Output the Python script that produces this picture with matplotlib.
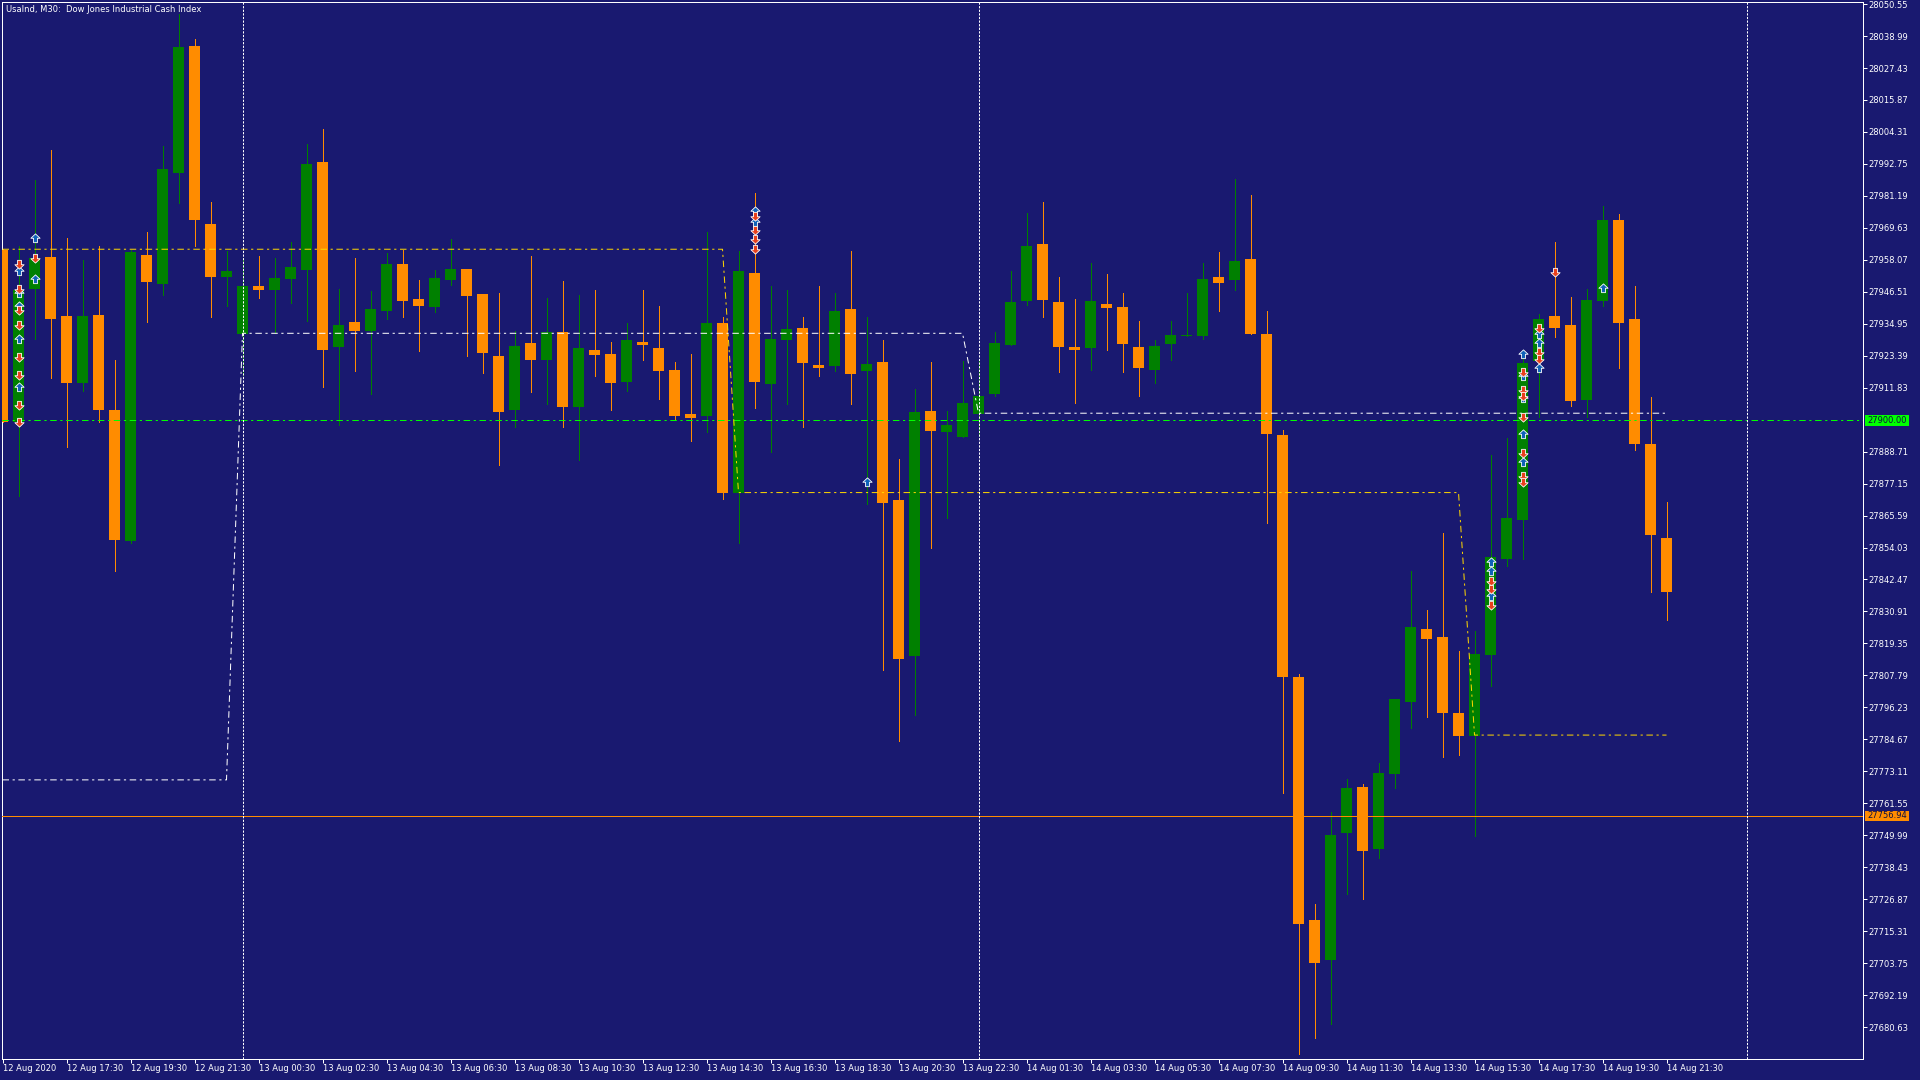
import numpy as np
import matplotlib
matplotlib.use('Agg')
import matplotlib.pyplot as plt
from matplotlib.path import Path
from matplotlib.patches import Rectangle
from matplotlib import font_manager
import matplotlib.transforms as mtransforms

# ---------------- data ----------------
time_labels = ["12 Aug 2020", "12 Aug 17:30", "12 Aug 19:30", "12 Aug 21:30",
               "13 Aug 00:30", "13 Aug 02:30", "13 Aug 04:30", "13 Aug 06:30",
               "13 Aug 08:30", "13 Aug 10:30", "13 Aug 12:30", "13 Aug 14:30",
               "13 Aug 16:30", "13 Aug 18:30", "13 Aug 20:30", "13 Aug 22:30",
               "14 Aug 01:30", "14 Aug 03:30", "14 Aug 05:30", "14 Aug 07:30",
               "14 Aug 09:30", "14 Aug 11:30", "14 Aug 13:30", "14 Aug 15:30",
               "14 Aug 17:30", "14 Aug 19:30", "14 Aug 21:30"]
label_bars = list(range(0, 105, 4))

opens = [27961.8, 27899.5, 27947.5, 27959.1, 27937.8, 27913.6, 27938.1, 27903.7, 27856.5, 27959.9,
         27949.5, 27989.6, 28035.3, 27971.0, 27952.0, 27931.3, 27948.6, 27947.3, 27951.3, 27954.5,
         27993.4, 27926.4, 27935.6, 27932.4, 27939.4, 27956.6, 27944.0, 27941.1, 27950.6, 27954.8,
         27945.7, 27923.2, 27903.9, 27928.0, 27921.9, 27931.9, 27904.8, 27925.5, 27924.0, 27914.0,
         27928.4, 27926.1, 27918.2, 27902.3, 27901.7, 27935.2, 27873.8, 27953.3, 27913.0, 27928.9,
         27933.4, 27920.1, 27919.8, 27940.3, 27918.0, 27921.1, 27871.2, 27814.8, 27903.4, 27895.8,
         27894.1, 27902.3, 27909.6, 27927.3, 27943.2, 27963.7, 27942.8, 27926.5, 27926.3, 27942.0,
         27941.0, 27926.5, 27918.4, 27927.5, 27930.6, 27930.6, 27951.9, 27950.9, 27958.3, 27931.3,
         27894.7, 27807.1, 27719.3, 27704.9, 27750.8, 27767.4, 27745.1, 27772.3, 27798.3, 27824.6,
         27821.6, 27794.1, 27786.0, 27815.3, 27849.9, 27864.1, 27921.4, 27937.7, 27934.5, 27907.5,
         27943.3, 27972.5, 27936.6, 27891.4, 27857.4]
highs = [27962.0, 27963.0, 27987.0, 27997.7, 27965.9, 27958.0, 27963.0, 27921.9, 27961.7, 27968.2,
         27999.2, 28047.0, 28038.0, 27979.0, 27961.2, 27958.7, 27959.4, 27958.7, 27964.5, 27999.8,
         28005.4, 27947.5, 27958.7, 27946.9, 27960.5, 27961.7, 27950.8, 27954.4, 27965.6, 27954.8,
         27945.7, 27946.1, 27932.3, 27959.4, 27944.3, 27950.5, 27945.3, 27947.2, 27928.4, 27935.2,
         27947.2, 27941.4, 27921.1, 27924.0, 27968.1, 27937.4, 27961.2, 27982.3, 27948.6, 27947.2,
         27937.4, 27948.6, 27946.1, 27961.2, 27937.4, 27929.0, 27886.0, 27911.4, 27921.1, 27903.4,
         27921.5, 27921.8, 27931.9, 27954.0, 27975.0, 27979.0, 27951.9, 27943.9, 27956.9, 27952.9,
         27946.1, 27936.0, 27929.0, 27936.0, 27946.1, 27956.9, 27960.8, 27987.3, 27981.5, 27939.5,
         27896.6, 27808.3, 27725.1, 27758.4, 27770.2, 27768.5, 27776.1, 27799.2, 27845.5, 27831.5,
         27859.2, 27816.6, 27824.0, 27887.5, 27893.7, 27922.5, 27938.5, 27964.5, 27944.7, 27947.5,
         27977.6, 27974.6, 27948.5, 27908.4, 27870.4]
lows = [27899.3, 27872.6, 27929.4, 27915.3, 27890.3, 27910.5, 27899.5, 27845.4, 27855.5, 27935.7,
        27945.2, 27978.8, 27962.9, 27937.4, 27941.5, 27916.6, 27944.1, 27931.5, 27942.3, 27936.1,
        27912.2, 27898.2, 27917.9, 27909.4, 27936.5, 27937.5, 27925.2, 27939.3, 27949.1, 27923.4,
        27917.3, 27883.7, 27897.7, 27910.1, 27906.0, 27897.7, 27885.8, 27915.9, 27903.9, 27910.8,
        27921.7, 27907.9, 27900.6, 27892.7, 27895.9, 27871.7, 27855.8, 27904.4, 27888.7, 27905.8,
        27897.7, 27915.9, 27918.0, 27905.8, 27869.9, 27809.8, 27784.1, 27793.6, 27853.8, 27864.7,
        27894.1, 27894.2, 27908.7, 27927.3, 27941.9, 27937.4, 27917.5, 27906.3, 27918.4, 27925.6,
        27917.5, 27908.7, 27913.5, 27921.9, 27930.6, 27929.6, 27939.7, 27947.3, 27931.3, 27863.0,
        27765.1, 27671.0, 27676.8, 27681.7, 27728.9, 27727.0, 27741.9, 27766.9, 27788.8, 27792.8,
        27778.1, 27779.1, 27749.6, 27804.1, 27847.4, 27849.9, 27901.3, 27930.3, 27905.3, 27901.3,
        27941.2, 27919.1, 27889.3, 27838.0, 27827.7]
closes = [27899.5, 27947.3, 27958.7, 27936.6, 27913.6, 27937.8, 27903.9, 27856.8, 27960.9, 27949.9,
          27990.9, 28035.1, 27972.6, 27952.0, 27954.1, 27948.6, 27947.3, 27951.5, 27955.4, 27992.7,
          27925.6, 27934.4, 27932.4, 27940.3, 27956.6, 27943.3, 27941.5, 27951.5, 27954.8, 27945.1,
          27924.2, 27903.1, 27926.9, 27921.9, 27931.9, 27904.8, 27926.1, 27923.8, 27913.6, 27929.0,
          27927.1, 27918.0, 27901.7, 27901.0, 27935.2, 27873.8, 27954.0, 27914.0, 27929.4, 27933.1,
          27920.9, 27918.8, 27939.5, 27916.9, 27920.3, 27870.3, 27813.7, 27903.0, 27896.2, 27898.4,
          27906.3, 27908.8, 27928.0, 27942.8, 27963.1, 27943.6, 27926.5, 27925.6, 27943.2, 27940.7,
          27927.7, 27918.8, 27926.9, 27930.9, 27930.9, 27951.1, 27949.7, 27957.7, 27931.3, 27895.2,
          27807.1, 27717.8, 27703.8, 27750.0, 27767.0, 27744.1, 27772.5, 27799.2, 27825.3, 27821.0,
          27794.3, 27786.0, 27815.6, 27850.6, 27864.7, 27920.7, 27936.6, 27933.4, 27907.1, 27943.6,
          27972.5, 27935.3, 27891.3, 27858.4, 27838.0]

# indicator step lines: (first bar, last bar, level)
yellow_levels = [(0, 45, 27961.9), (46, 91, 27873.9), (92, 104, 27786.2)]
white_levels = [(0, 14, 27770.0), (15, 60, 27931.5), (61, 104, 27902.6)]
separator_bars = [15, 61, 109]
hline_green = 27900.00
hline_orange = 27756.94

y_ticks = [28050.55, 28038.99, 28027.43, 28015.87, 28004.31, 27992.75, 27981.19, 27969.63,
           27958.07, 27946.51, 27934.95, 27923.39, 27911.83, 27888.71, 27877.15, 27865.59,
           27854.03, 27842.47, 27830.91, 27819.35, 27807.79, 27796.23, 27784.67, 27773.11,
           27761.55, 27749.99, 27738.43, 27726.87, 27715.31, 27703.75, 27692.19, 27680.63]

marker_bars = [1]*13 + [2]*3 + [47]*6 + [54] + [93]*6 + [95]*12 + [96]*6 + [97] + [100]
marker_prices = [27956.5, 27954.1, 27947.5, 27946.0, 27941.3, 27939.9, 27934.4, 27929.5, 27922.9,
                 27916.6, 27912.0, 27905.7, 27899.5,
                 27965.9, 27958.6, 27951.2,
                 27975.7, 27973.9, 27971.8, 27968.9, 27965.7, 27961.9,
                 27877.8,
                 27848.9, 27845.4, 27842.0, 27839.1, 27836.4, 27833.1,
                 27924.1, 27917.4, 27916.0, 27911.1, 27908.7, 27908.0, 27901.3, 27895.2, 27888.3,
                 27885.0, 27879.9, 27877.9,
                 27933.4, 27931.4, 27928.1, 27924.7, 27922.1, 27919.0,
                 27953.5,
                 27947.9]
marker_dirs = ['d', 'u', 'd', 'u', 'u', 'd', 'd', 'u', 'd', 'd', 'u', 'd', 'd',
               'u', 'd', 'u',
               'u', 'd', 'u', 'd', 'd', 'd',
               'u',
               'u', 'u', 'd', 'd', 'u', 'd',
               'u', 'd', 'u', 'd', 'd', 'u', 'd', 'u', 'd', 'u', 'd', 'd',
               'd', 'u', 'u', 'd', 'd', 'u',
               'd',
               'u']

title_text = "UsaInd, M30:  Dow Jones Industrial Cash Index"

# ---------------- style ----------------
BG = '#191970'
UP = '#008000'
DN = '#ff8c00'
GOLD = '#ffd700'
LIME = '#00ff00'
PX = 0.72  # one pixel in points at 100 dpi

names = {f.name for f in font_manager.fontManager.ttflist}
if 'Liberation Sans Narrow' in names:
    FONT = 'Liberation Sans Narrow'
    FS = 7.6
else:
    FONT = 'DejaVu Sans'
    FS = 6.0
plt.rcParams['font.family'] = [FONT, 'DejaVu Sans']

fig = plt.figure(figsize=(19.2, 10.8), dpi=100, facecolor=BG)
L, R = 2 / 1920, 1863 / 1920
T, B = 1 - 2 / 1080, 1 - 1059 / 1080
ax = fig.add_axes([L, B, R - L, T - B])
ax.set_facecolor(BG)

o = np.array(opens); h = np.array(highs); l = np.array(lows); c = np.array(closes)
x = np.arange(len(o))
cols = [UP if cc >= oo else DN for oo, cc in zip(o, c)]

# wicks and bodies
ax.vlines(x, l, h, colors=cols, linewidth=PX, antialiased=False, zorder=2)
bottoms = np.minimum(o, c)
heights = np.maximum(np.abs(c - o), 0.4)
ax.bar(x, heights, width=0.6875, bottom=bottoms, color=cols, linewidth=0,
       antialiased=False, zorder=3)

# horizontal levels
dashdot = (0, (6.5, 3.6, 2.2, 3.6))
ax.axhline(hline_green, color=LIME, linewidth=PX, linestyle=dashdot, zorder=4)
ax.axhline(hline_orange, color=DN, linewidth=PX, zorder=4)

def build(levels):
    xs, ys = [], []
    for a, b, v in levels:
        for i in range(a, b + 1):
            xs.append(i); ys.append(v)
    return xs, ys

yx, yy = build(yellow_levels)
ax.plot(yx, yy, color=GOLD, linewidth=PX, linestyle=dashdot, zorder=4)
wx, wy = build(white_levels)
ax.plot(wx, wy, color='white', linewidth=PX, linestyle=dashdot, zorder=4)

for sb in separator_bars:
    ax.axvline(sb, color='white', linewidth=PX, linestyle=(0, (2.2, 1.4)), zorder=4)

# arrow markers
up_path = Path([(0, 1), (1, 0.05), (0.42, 0.05), (0.42, -0.9), (-0.42, -0.9),
                (-0.42, 0.05), (-1, 0.05), (0, 1)],
               [Path.MOVETO] + [Path.LINETO] * 6 + [Path.CLOSEPOLY])
dn_path = Path([(px_, -py_) for px_, py_ in up_path.vertices], up_path.codes)
mb = np.array(marker_bars); mp = np.array(marker_prices); md = np.array(marker_dirs)
ax.scatter(mb[md == 'u'], mp[md == 'u'], marker=up_path, s=44, c='#1062b8',
           edgecolors='white', linewidths=0.6, zorder=6)
ax.scatter(mb[md == 'd'], mp[md == 'd'], marker=dn_path, s=44, c='#e8401c',
           edgecolors='white', linewidths=0.6, zorder=6)

# axes
ax.set_xlim(-0.03125, 116.28)
ax.set_ylim(27669.06, 28051.31)
for sp in ax.spines.values():
    sp.set_color('white'); sp.set_linewidth(PX)

ax.yaxis.tick_right()
ax.set_yticks(y_ticks)
ax.set_yticklabels([f"{v:.2f}" for v in y_ticks])
ax.tick_params(axis='y', colors='white', length=4 * PX, width=PX, pad=1.2,
               labelsize=FS, labelcolor='white')
ax.set_xticks(label_bars)
ax.set_xticklabels(time_labels)
ax.tick_params(axis='x', colors='white', length=4 * PX, width=PX, pad=1.0,
               labelsize=FS, labelcolor='white')
for t in ax.get_xticklabels():
    t.set_ha('left')

# price labels on the scale
blend = mtransforms.blended_transform_factory(ax.transAxes, ax.transData)
aw = 1861.0
for price, bg in [(hline_green, LIME), (hline_orange, DN)]:
    hh = 10.6 / 2.7652
    ax.add_patch(Rectangle(((1865 - 2) / aw, price - hh / 2), 44 / aw, hh, transform=blend,
                           facecolor=bg, edgecolor='none', clip_on=False, zorder=10))
    ax.text((1867.5 - 2) / aw, price, f"{price:.2f}", transform=blend, ha='left', va='center',
            fontsize=FS, color='#101040', clip_on=False, zorder=11)

fig.text(6.5 / 1920, 1 - 9.5 / 1080, title_text, color='white', fontsize=FS,
         ha='left', va='center')

fig.savefig('out.png', dpi=100, facecolor=BG)
